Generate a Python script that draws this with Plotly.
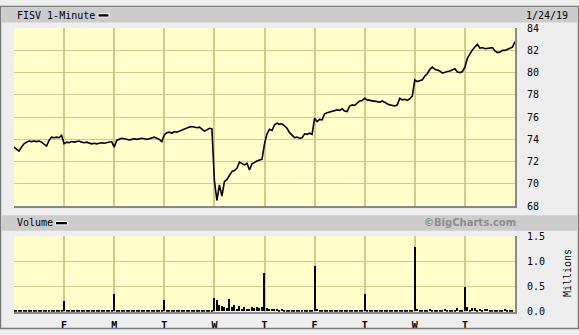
import plotly.graph_objects as go

W, H = 579, 335

# ---------------- data ----------------
day_labels = ["F", "M", "T", "W", "T", "F", "T", "W", "T"]
minutes_per_day = 390
samples_per_day = 20

# FISV 1-minute price, sampled 20 times per session (10 sessions) + final close
price = [
    # Thu
    73.3, 73.1, 72.95, 73.3, 73.6, 73.75, 73.85, 73.8, 73.85, 73.8,
    73.85, 73.75, 73.55, 73.4, 73.9, 74.2, 74.15, 74.2, 74.15, 74.35,
    # Fri
    73.6, 73.75, 73.7, 73.8, 73.75, 73.8, 73.85, 73.75, 73.7, 73.75,
    73.65, 73.6, 73.65, 73.6, 73.65, 73.7, 73.65, 73.7, 73.75, 73.8,
    # Mon
    73.3, 73.9, 74.0, 74.1, 74.05, 74.0, 73.95, 74.0, 74.05, 74.0,
    74.05, 74.1, 74.05, 74.0, 74.05, 74.15, 74.2, 74.1, 74.0, 73.8,
    # Tue
    74.4, 74.6, 74.65, 74.55, 74.7, 74.65, 74.75, 74.85, 74.9, 75.0,
    75.1, 75.15, 75.1, 75.05, 75.1, 74.9, 74.75, 74.85, 75.0, 74.95,
    # Wed
    70.3, 68.5, 69.9, 68.9, 70.2, 70.4, 70.7, 71.1, 71.2, 71.4,
    71.95, 71.8, 71.7, 71.85, 71.25, 71.8, 71.95, 72.05, 72.15, 72.2,
    # Thu
    73.6, 74.5, 74.9, 74.8, 75.3, 75.45, 75.35, 75.4, 75.2, 75.0,
    74.6, 74.35, 74.15, 74.2, 74.1, 74.15, 74.5, 74.45, 74.55, 74.45,
    # Fri
    75.9, 75.6, 75.8, 75.75, 76.3, 76.4, 76.45, 76.5, 76.55, 76.65,
    76.6, 76.75, 76.55, 76.5, 77.0, 77.1, 77.05, 77.3, 77.45, 77.5,
    # Tue
    77.7, 77.55, 77.5, 77.45, 77.4, 77.4, 77.35, 77.45, 77.3, 77.2,
    77.1, 77.05, 77.0, 77.1, 77.7, 77.55, 77.6, 77.5, 77.65, 77.9,
    # Wed
    79.35, 79.2, 79.25, 79.35, 79.7, 79.9, 80.3, 80.5, 80.3, 80.25,
    80.15, 79.95, 80.05, 80.1, 80.15, 80.25, 80.35, 80.05, 80.0, 80.1,
    # Thu
    80.5, 81.3, 81.7, 82.05, 82.3, 82.55, 82.2, 82.25, 82.15, 82.2,
    82.2, 82.25, 81.95, 81.8, 81.85, 82.0, 82.0, 82.1, 82.25, 82.3,
    # close
    82.8,
]

# Volume (millions), same sampling times
volume = [
    0.02, 0.01, 0.01, 0.01, 0.01, 0.01, 0.01, 0.01, 0.01, 0.01,
    0.01, 0.01, 0.01, 0.01, 0.01, 0.01, 0.01, 0.01, 0.01, 0.02,
    0.20, 0.01, 0.01, 0.01, 0.01, 0.01, 0.01, 0.01, 0.01, 0.01,
    0.01, 0.01, 0.01, 0.01, 0.01, 0.01, 0.01, 0.01, 0.01, 0.02,
    0.35, 0.01, 0.01, 0.01, 0.01, 0.01, 0.01, 0.01, 0.01, 0.01,
    0.01, 0.01, 0.01, 0.01, 0.01, 0.01, 0.01, 0.01, 0.01, 0.02,
    0.23, 0.01, 0.01, 0.01, 0.01, 0.01, 0.01, 0.01, 0.01, 0.01,
    0.01, 0.01, 0.01, 0.01, 0.01, 0.01, 0.01, 0.01, 0.01, 0.02,
    0.27, 0.22, 0.12, 0.10, 0.08, 0.06, 0.25, 0.08, 0.12, 0.05,
    0.10, 0.05, 0.08, 0.04, 0.05, 0.08, 0.06, 0.08, 0.07, 0.08,
    0.76, 0.06, 0.05, 0.04, 0.04, 0.05, 0.03, 0.04, 0.03, 0.02,
    0.03, 0.02, 0.03, 0.02, 0.02, 0.03, 0.02, 0.02, 0.02, 0.03,
    0.91, 0.04, 0.03, 0.02, 0.03, 0.02, 0.02, 0.02, 0.02, 0.02,
    0.02, 0.02, 0.02, 0.02, 0.02, 0.02, 0.02, 0.02, 0.02, 0.03,
    0.35, 0.03, 0.02, 0.02, 0.02, 0.02, 0.02, 0.02, 0.02, 0.02,
    0.02, 0.02, 0.02, 0.02, 0.03, 0.02, 0.02, 0.02, 0.02, 0.03,
    1.28, 0.04, 0.03, 0.02, 0.03, 0.02, 0.05, 0.02, 0.02, 0.03,
    0.02, 0.02, 0.04, 0.02, 0.03, 0.02, 0.03, 0.06, 0.03, 0.03,
    0.49, 0.08, 0.03, 0.06, 0.07, 0.03, 0.05, 0.03, 0.04, 0.05,
    0.03, 0.02, 0.03, 0.02, 0.03, 0.02, 0.04, 0.03, 0.02, 0.03,
]

step = minutes_per_day / samples_per_day
t_price = [i * step for i in range(len(price))]
t_vol = [i * step for i in range(len(volume))]
n_days = 10
day_starts = [minutes_per_day * d for d in range(1, n_days)]

# ---------------- helpers ----------------
def px(x):
    return x / W

def py(y):
    return 1 - y / H

MONO = "DejaVu Sans Mono"
GRID = "#cccc8c"
BG = "#ffffcc"

fig = go.Figure()
fig.add_trace(go.Scatter(x=t_price, y=price, mode="lines",
                         line=dict(color="black", width=1.6),
                         xaxis="x", yaxis="y", hoverinfo="skip"))
fig.add_trace(go.Bar(x=t_vol, y=volume, width=9, marker=dict(color="black", line=dict(width=0)),
                     xaxis="x2", yaxis="y2", hoverinfo="skip"))

xdom = [px(14), px(515)]
common_x = dict(range=[0, minutes_per_day * n_days], tickvals=day_starts,
                showgrid=True, gridcolor=GRID, gridwidth=2, zeroline=False,
                showline=True, linecolor="#888888", linewidth=2, ticks="",
                fixedrange=True)

fig.update_layout(
    width=W, height=H, margin=dict(l=0, r=0, t=0, b=0),
    paper_bgcolor="#eeeeee", plot_bgcolor=BG, showlegend=False, bargap=0,
    xaxis=dict(domain=xdom, anchor="y", showticklabels=False, **common_x),
    xaxis2=dict(domain=xdom, anchor="y2", ticktext=day_labels, showticklabels=True,
                ticklabelstandoff=3,
                tickfont=dict(family=MONO, size=10, color="black", weight="bold"),
                **common_x),
    yaxis=dict(domain=[py(207.5), py(23)], range=[68, 84], dtick=2, side="right",
               anchor="x", showgrid=True, gridcolor=GRID, gridwidth=1, zeroline=False,
               showline=True, linecolor="#888888", linewidth=2, ticks="",
               ticklabelstandoff=8,
               tickfont=dict(family=MONO, size=10, color="black")),
    yaxis2=dict(domain=[py(317), py(239)], range=[0, 1.5], dtick=0.5, tickformat=".1f",
                side="right", anchor="x2", showgrid=True, gridcolor=GRID, gridwidth=1,
                zeroline=False, showline=True, linecolor="#888888", linewidth=2, ticks="",
                ticklabelstandoff=8,
                tickfont=dict(family=MONO, size=10, color="black")),
)

shapes = [
    # header bands
    dict(type="rect", xref="paper", yref="paper", x0=px(2), x1=px(577), y0=py(17), y1=py(2),
         fillcolor="#cccccc", line=dict(width=0), layer="below"),
    dict(type="rect", xref="paper", yref="paper", x0=px(2), x1=px(577), y0=py(233), y1=py(217),
         fillcolor="#cccccc", line=dict(width=0), layer="below"),
    # legend swatches
    dict(type="rect", xref="paper", yref="paper", x0=px(98), x1=px(109), y0=py(11.5), y1=py(8),
         fillcolor="black", line=dict(color="white", width=1)),
    dict(type="rect", xref="paper", yref="paper", x0=px(55.5), x1=px(67.5), y0=py(227), y1=py(223.5),
         fillcolor="black", line=dict(color="white", width=1)),
    # outer frame
    dict(type="rect", xref="paper", yref="paper", x0=px(0.5), x1=px(578.5), y0=py(334.5), y1=py(0.5),
         fillcolor="rgba(0,0,0,0)", line=dict(color="#777777", width=1.5)),
]
fig.update_layout(shapes=shapes)

annotations = [
    dict(text="FISV 1-Minute", x=px(15), y=py(10), xref="paper", yref="paper",
         xanchor="left", yanchor="middle", showarrow=False,
         font=dict(family=MONO, size=10, color="black")),
    dict(text="1/24/19", x=px(524), y=py(10), xref="paper", yref="paper",
         xanchor="left", yanchor="middle", showarrow=False,
         font=dict(family=MONO, size=10, color="black")),
    dict(text="Volume", x=px(15), y=py(225), xref="paper", yref="paper",
         xanchor="left", yanchor="middle", showarrow=False,
         font=dict(family=MONO, size=10, color="black")),
    dict(text="©BigCharts.com", x=px(470), y=py(225), xref="paper", yref="paper",
         xanchor="center", yanchor="middle", showarrow=False,
         font=dict(family="DejaVu Sans", size=10, color="#8c8c8c", weight="bold")),
    dict(text="Millions", x=px(567), y=py(277), xref="paper", yref="paper",
         xanchor="center", yanchor="middle", showarrow=False, textangle=-90,
         font=dict(family=MONO, size=10, color="black")),
]
fig.update_layout(annotations=annotations)

fig.write_html("out.html", config={"displayModeBar": False})
